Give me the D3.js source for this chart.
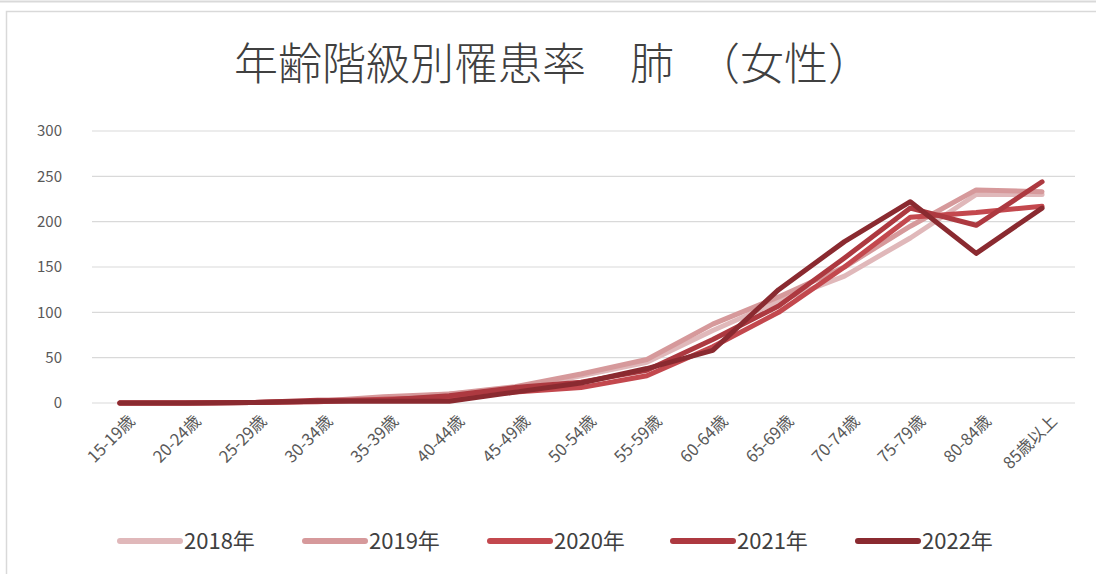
<!DOCTYPE html>
<html><head><meta charset="utf-8">
<script src="https://cdn.jsdelivr.net/npm/d3@7"></script>
<style>
html,body{margin:0;padding:0;background:#fff;}
svg{display:block;}
text{font-family:"Noto Sans CJK JP","Noto Sans",sans-serif;}
</style></head><body>
<svg id="c" width="1096" height="574"></svg>
<script>
const title = "年齢階級別罹患率　肺　（女性）";
const categories = ["15-19歳","20-24歳","25-29歳","30-34歳","35-39歳","40-44歳","45-49歳","50-54歳","55-59歳","60-64歳","65-69歳","70-74歳","75-79歳","80-84歳","85歳以上"];
const years = ["2018年","2019年","2020年","2021年","2022年"];
const colors = ["#e0b8ba","#d6999b","#c3484e","#ad3940","#8a2a30"];
const v2018 = [0,0,0.5,2,5,10,15,30,45,80,112,140,182,230,230];
const v2019 = [0,0,0.5,2,7,10,18,32,48,87,117,150,195,235,233];
const v2020 = [0,0,0.5,1.5,4,6,12,17,30,62,100,150,205,210,217];
const v2021 = [0,0,0.5,3,3,8,17,23,36,70,107,160,215,196,244];
const v2022 = [0,0,0.5,2,2,2,12,22,38,58,125,178,222,165,215];
const series = [v2018,v2019,v2020,v2021,v2022];
const yTicks = [0,50,100,150,200,250,300];

const svg = d3.select("#c");
// frames
svg.append("line").attr("x1",0).attr("x2",1096).attr("y1",1.5).attr("y2",1.5).attr("stroke","#d9d9d9").attr("stroke-width",2);
svg.append("rect").attr("x",6.5).attr("y",11.5).attr("width",1200).attr("height",700).attr("fill","#fff").attr("stroke","#d9d9d9").attr("stroke-width",1.5);

const x = d3.scaleBand().domain(categories).range([87,1075]);
const y = d3.scaleLinear().domain([0,300]).range([403,131]);

// gridlines
svg.append("g").selectAll("line").data(yTicks).join("line")
  .attr("x1",92).attr("x2",1075).attr("y1",d=>y(d)).attr("y2",d=>y(d))
  .attr("stroke","#d9d9d9").attr("stroke-width",1.2);

// y axis
const ya = svg.append("g").attr("transform","translate(70,0)")
  .call(d3.axisLeft(y).tickValues(yTicks).tickSize(0).tickPadding(8));
ya.select(".domain").remove();
ya.selectAll("text").attr("font-size",15).attr("fill","#595959").attr("font-family","'Noto Sans CJK JP',sans-serif");

// x axis labels
const xa = svg.append("g").attr("transform","translate(0,403)")
  .call(d3.axisBottom(x).tickSize(0).tickPadding(0));
xa.select(".domain").remove();
xa.selectAll("text").attr("font-size",16.5).attr("fill","#595959")
  .attr("text-anchor","end").attr("dy","0.35em")
  .attr("transform","translate(12,15) rotate(-45)");

// lines
const line = d3.line().x((d,i)=>x(categories[i])+x.bandwidth()/2).y(d=>y(d));
series.forEach((s,k)=>{
  svg.append("path").datum(s).attr("d",line).attr("fill","none")
    .attr("stroke",colors[k]).attr("stroke-width",5)
    .attr("stroke-linejoin","round").attr("stroke-linecap","round");
});

// title
svg.append("text").attr("x",234).attr("y",80).attr("font-size",44).attr("font-weight",300)
  .attr("fill","#404040").text(title);

// legend
const lx = [120,305,490,673,858];
years.forEach((yr,k)=>{
  svg.append("line").attr("x1",lx[k]).attr("x2",lx[k]+60).attr("y1",541).attr("y2",541)
    .attr("stroke",colors[k]).attr("stroke-width",6).attr("stroke-linecap","round");
  svg.append("text").attr("x",lx[k]+64).attr("y",549).attr("font-size",22).attr("fill","#404040").text(yr);
});
</script>
</body></html>
